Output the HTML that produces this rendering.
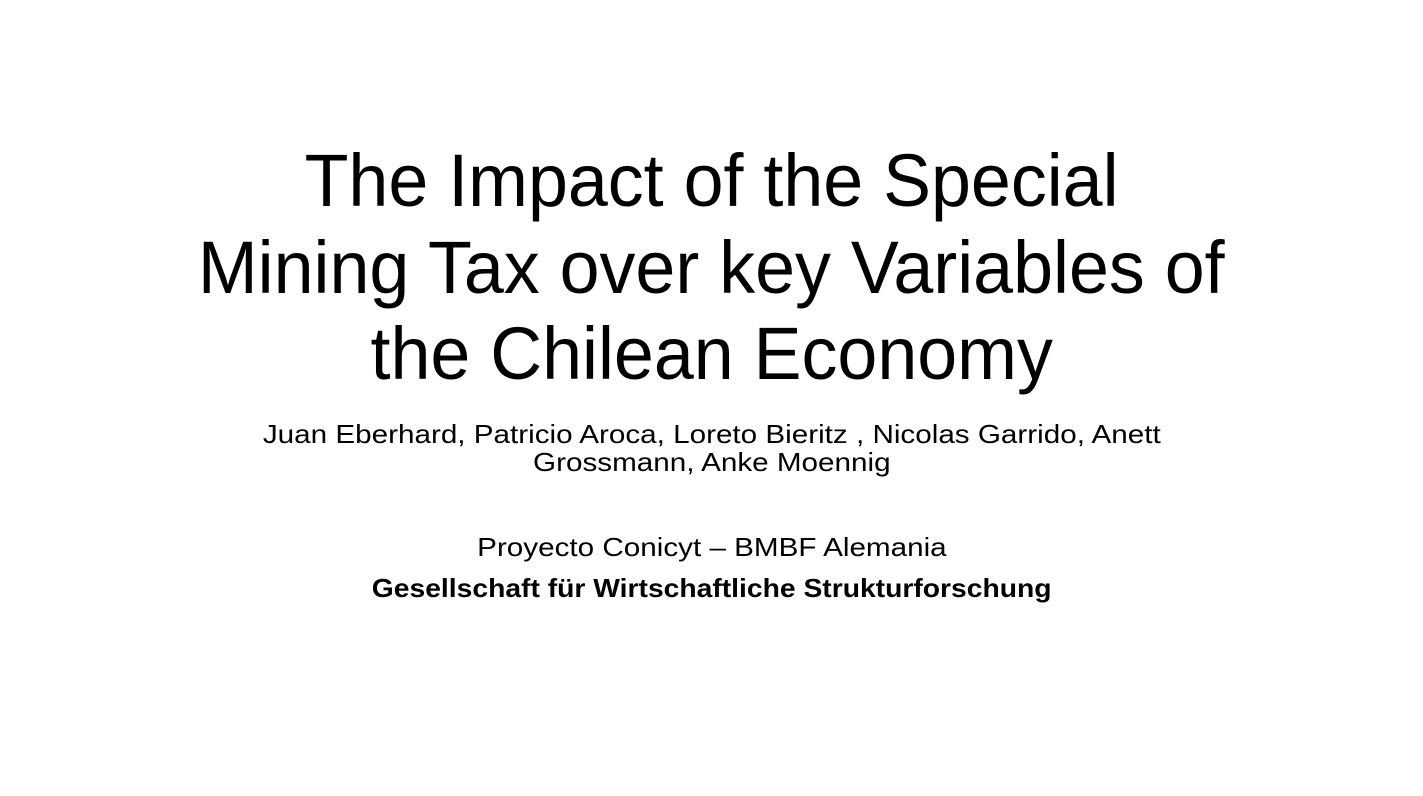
<!DOCTYPE html>
<html><head><meta charset="utf-8"><style>
html,body{margin:0;padding:0;background:#fff;}
body{width:1423px;height:796px;position:relative;overflow:hidden;font-family:"Liberation Sans",sans-serif;color:#000;}
.l{position:absolute;left:0;width:1423px;text-align:center;white-space:nowrap;}
.l span{display:inline-block;transform-origin:center;}
.t{font-size:74px;line-height:74px;}
.t span{transform:scaleX(0.97);}
.a{font-size:26px;line-height:26px;}
.a span{transform:scaleX(1.14);}
</style></head><body>
<div class="l t" style="top:144px"><span>The Impact of the Special</span></div>
<div class="l t" style="top:231px"><span>Mining Tax over key Variables of</span></div>
<div class="l t" style="top:317px"><span>the Chilean Economy</span></div>
<div class="l a" style="top:421px"><span>Juan Eberhard, Patricio Aroca, Loreto Bieritz , Nicolas Garrido, Anett</span></div>
<div class="l a" style="top:449px"><span>Grossmann, Anke Moennig</span></div>
<div class="l a" style="top:534px"><span>Proyecto Conicyt – BMBF Alemania</span></div>
<div class="l a" style="top:575px;font-weight:bold"><span style="transform:scaleX(1.087)">Gesellschaft für Wirtschaftliche Strukturforschung</span></div>
</body></html>
